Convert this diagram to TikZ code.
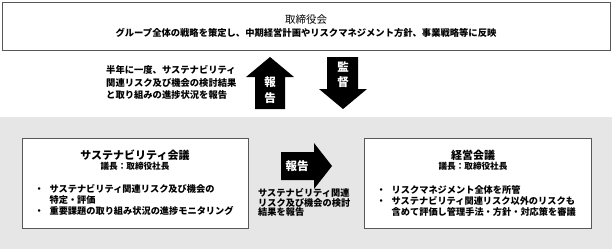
\documentclass[tikz,border=0pt]{standalone}
\usepackage{fontspec}
\setmainfont{Noto Sans CJK JP}
\usetikzlibrary{positioning}
\definecolor{panelGray}{HTML}{E6E6E6}
\definecolor{frameGray}{HTML}{585858}
\newcommand{\bul}{\makebox[15pt][l]{・}}
\newcommand{\bulgap}{\hspace*{15pt}}

\begin{document}
\begin{tikzpicture}[x=1pt, y=-1pt,
  frame/.style={draw=frameGray, line width=0.9pt, fill=white, inner sep=0pt},
  head/.style={inner sep=0pt, font=\fontsize{11}{13}\selectfont\bfseries},
  chair/.style={inner sep=0pt, font=\fontsize{8.6}{10}\selectfont\bfseries},
  body/.style={inner sep=0pt, align=left, font=\fontsize{9.2}{11}\selectfont\bfseries},
  blockarrow/.style={fill=black},
  arrowtext/.style={inner sep=0pt, align=center, text=white,
    font=\fontsize{11.5}{15.5}\selectfont\bfseries}]
  \useasboundingbox (0,0) rectangle (612,249);
  \fill[white] (0,0) rectangle (612,249);
  \fill[panelGray] (0,117) rectangle (612,249);

  % board
  \node[frame, minimum width=608pt, minimum height=48pt] (board) at (306,26) {};
  \node[inner sep=0pt, font=\fontsize{10.5}{12}\selectfont] (boardTitle) at (306,20) {取締役会};
  \node[body, font=\fontsize{9.3}{11}\selectfont\bfseries] (boardRole) at (306,32.5)
    {グループ全体の戦略を策定し、中期経営計画やリスクマネジメント方針、事業戦略等に反映};

  % report up / supervise down
  \fill[blockarrow] (255,109) -- (255,77) -- (246,77) -- (270,57) -- (294,77)
    -- (285,77) -- (285,109) -- cycle;
  \node[arrowtext] (upReport) at (270,90) {報\\告};
  \fill[blockarrow] (327,57) -- (358,57) -- (358,89) -- (367,89) -- (343,109)
    -- (319,89) -- (327,89) -- cycle;
  \node[arrowtext, font=\fontsize{11.5}{15}\selectfont\bfseries] (downSupervise) at (343,75) {監\\督};
  \node[body, anchor=west, font=\fontsize{9.3}{12.5}\selectfont\bfseries] (upNote) at (106,82.5)
    {半年に一度、サステナビリティ\\関連リスク及び機会の検討結果\\と取り組みの進捗状況を報告};

  % sustainability committee
  \node[frame, minimum width=226pt, minimum height=90pt] (susBox) at (135,183) {};
  \node[head] (susTitle) at (135,155) {サステナビリティ会議};
  \node[chair] (susChair) at (135,166) {議長：取締役社長};
  \node[body, anchor=west] (susList) at (34.4,200)
    {\bul サステナビリティ関連リスク及び機会の\\\bulgap 特定・評価\\\bul 重要課題の取り組み状況の進捗モニタリング};

  % report right
  \fill[blockarrow] (281,152) -- (314,152) -- (314,143) -- (332,166) -- (314,189)
    -- (314,180) -- (281,180) -- cycle;
  \node[arrowtext] (sideReport) at (297,166) {報告};
  \node[body, anchor=west, font=\fontsize{9.2}{9.8}\selectfont\bfseries] (sideNote) at (258,202.5)
    {サステナビリティ関連\\リスク及び機会の検討\\結果を報告};

  % management meeting
  \node[frame, minimum width=227pt, minimum height=90pt] (mgmtBox) at (477.5,183) {};
  \node[head] (mgmtTitle) at (473,155) {経営会議};
  \node[chair] (mgmtChair) at (473,166) {議長：取締役社長};
  \node[body, anchor=west] (mgmtList) at (376.5,200.5)
    {\bul リスクマネジメント全体を所管\\\bul サステナビリティ関連リスク以外のリスクも\\\bulgap 含めて評価し管理手法・方針・対応策を審議};
\end{tikzpicture}
\end{document}
